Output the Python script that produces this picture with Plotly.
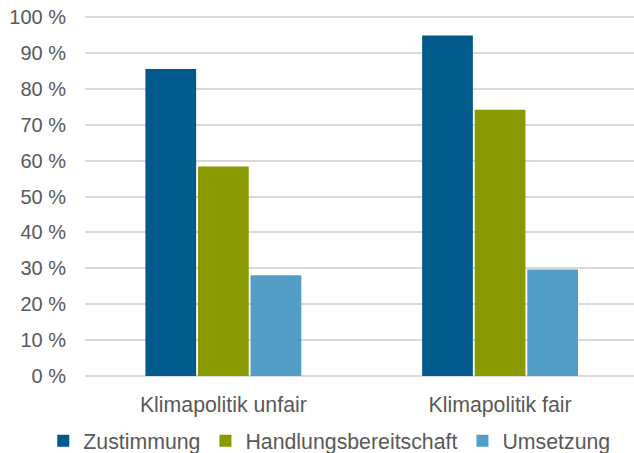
import plotly.graph_objects as go

categories = ["Klimapolitik unfair", "Klimapolitik fair"]
series_names = ["Zustimmung", "Handlungsbereitschaft", "Umsetzung"]
zustimmung = [85.5, 94.9]
handlungsbereitschaft = [58.4, 74.2]
umsetzung = [28.1, 29.7]
y_ticks = [0, 10, 20, 30, 40, 50, 60, 70, 80, 90, 100]

colors = ["#005A8C", "#889A00", "#529EC6"]
values = [zustimmung, handlungsbereitschaft, umsetzung]

fig = go.Figure()
for name, vals, col in zip(series_names, values, colors):
    fig.add_trace(go.Bar(x=categories, y=vals, name=name, marker=dict(color=col, line=dict(width=0))))

font = "Liberation Sans, Arial, sans-serif"
fig.update_layout(
    width=634, height=453,
    margin=dict(l=85, r=0, t=16, b=77, autoexpand=False),
    paper_bgcolor="white", plot_bgcolor="white",
    barmode="group", bargap=0.43, bargroupgap=0.035,
    font=dict(family=font, size=21, color="#595959"),
    showlegend=True,
    legend=dict(orientation="h", x=-0.076, xanchor="left", y=-0.18, yanchor="middle",
                font=dict(size=21.3, color="#595959"), traceorder="normal",
                itemwidth=30, bgcolor="rgba(0,0,0,0)"),
)
fig.update_xaxes(range=[-0.5, 1.484], showgrid=False, showline=False, zeroline=False,
                 ticks="", ticklabelstandoff=14, automargin=False,
                 tickfont=dict(size=21.3, color="#595959"))
fig.update_yaxes(range=[0, 100.3], tickvals=y_ticks, ticktext=[f"{v} %" for v in y_ticks],
                 showgrid=True, gridcolor="#D9D9D9", gridwidth=1.5, zeroline=True,
                 zerolinecolor="#D9D9D9", zerolinewidth=1.5, showline=False, ticks="",
                 automargin=False, ticklabelstandoff=18, ticklabeloverflow="allow",
                 tickfont=dict(size=20, color="#595959"))

# remove the default 8px page margin so the figure fills the window exactly
fig.write_html("out.html", config={"displayModeBar": False},
               post_script="document.body.style.margin='0px';document.body.style.overflow='hidden';")
